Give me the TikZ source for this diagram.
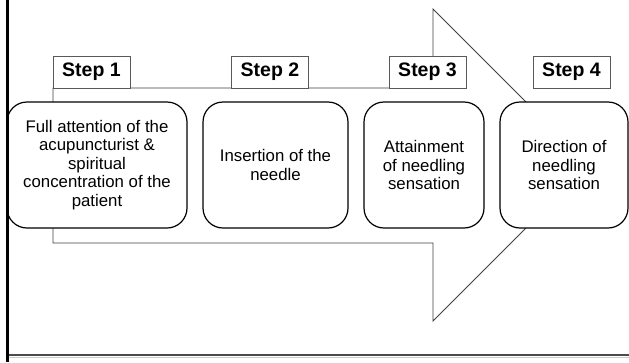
\documentclass[tikz,border=0pt]{standalone}
\usepackage{fontspec}
\setmainfont{Liberation Sans}
\begin{document}
\begin{tikzpicture}[x=1pt,y=-1pt,
  stepbox/.style={draw=black!65, fill=white, line width=0.8pt, minimum width=77pt, minimum height=32pt, inner sep=0pt, font=\fontsize{19.5}{22}\selectfont\bfseries},
  roundbox/.style={draw=black, fill=white, line width=1.2pt, rounded corners=20pt, minimum height=126pt, inner sep=0pt, align=center, font=\fontsize{16.8}{18.5}\selectfont},
  arrowline/.style={draw=black!75, fill=white, line width=0.8pt}]
\useasboundingbox (0,0) rectangle (629,362);
% big arrow
\path[arrowline] (53,88) coordinate (a1) -- (433,88) -- (433,9) -- (589,165) -- (433,321) -- (433,243) -- (53,243) -- cycle;
% step labels
\node[stepbox] (s1) at (91.5,72) {Step 1};
\node[stepbox] (s2) at (270,72) {Step 2};
\node[stepbox] (s3) at (427.5,72) {Step 3};
\node[stepbox] (s4) at (571.5,72) {Step 4};
% rounded boxes
\node[roundbox, minimum width=180pt] (b1) at (97,165) {Full attention of the\\acupuncturist \&\\spiritual\\concentration of the\\patient};
\node[roundbox, minimum width=145pt] (b2) at (275.5,165) {Insertion of the\\needle};
\node[roundbox, minimum width=120pt] (b3) at (424,165) {Attainment\\of needling\\sensation};
\node[roundbox, minimum width=128pt] (b4) at (564,165) {Direction of\\needling\\sensation};
% frame lines
\coordinate (lt) at (7.5,0);
\coordinate (lb) at (7.5,362);
\coordinate (bl) at (6,355);
\coordinate (br) at (629,355);
\coordinate (gl) at (6,357.5);
\coordinate (gr) at (629,357.5);
\draw[black!20, line width=1pt] (gl) -- (gr);
\draw[black!70, line width=1.2pt] (bl) -- (br);
\draw[black, line width=3pt] (lt) -- (lb);
\end{tikzpicture}
\end{document}
